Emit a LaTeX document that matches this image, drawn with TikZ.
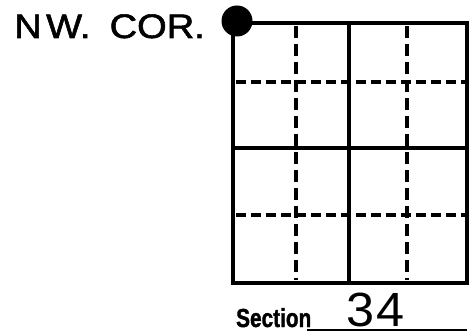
\documentclass[tikz,border=0pt]{standalone}
\usepackage{fontspec}
\setmainfont{Liberation Sans}
\newfontfamily\corfont[FakeBold=1.6]{Liberation Sans}
\newfontfamily\secfont[BoldFeatures={FakeBold=1.5}]{Liberation Sans}
\usepackage{tikz}
\usepackage{xcolor}

\tikzset{
    secline/.style={line width=3.6pt, line cap=rect},
    qline/.style={line width=3.4pt},
    qvert/.style={qline, dash pattern=on 12pt off 6pt},
    qhorz/.style={qline, dash pattern=on 10pt off 5pt}
}

\begin{document}
\begin{tikzpicture}[x=1pt, y=-1pt]
    \useasboundingbox (0,0) rectangle (476,336);

    % Section outline and quarter lines
    \draw[secline] (233,23) rectangle (467,283);
    \draw[secline] (349,23) -- (349,283);
    \draw[secline] (233,148) -- (467,148);

    % Quarter-quarter lines
    \foreach \xq in {296,407}
        \draw[qvert] (\xq,26) -- (\xq,280);
    \foreach \yq in {82,215}
        \draw[qhorz] (236,\yq) -- (465,\yq);

    % Corner marker
    \node[circle, fill=black, minimum size=31pt, inner sep=0pt] (corner) at (237,21) {};
    \node[anchor=base west, font=\corfont\fontsize{34}{36}\selectfont, xscale=1.12, inner sep=0pt] (cornerlabel) at (14,38) {N\hspace{4pt}W.\hspace{17pt}COR.};

    % Section number
    \node[anchor=base west, font=\secfont\bfseries\fontsize{26}{28}\selectfont, xscale=0.8, inner sep=0pt] (seclabel) at (236,327) {Section};
    \coordinate (ulstart) at (307,330);
    \coordinate (ulend) at (467,330);
    \draw[line width=2.2pt] (ulstart) -- (ulend);
    \node[anchor=base west, font=\fontsize{48}{50}\selectfont, xscale=1.05, inner sep=0pt] (secnum) at (346,326) {3\hspace{2pt}4};
\end{tikzpicture}
\end{document}
